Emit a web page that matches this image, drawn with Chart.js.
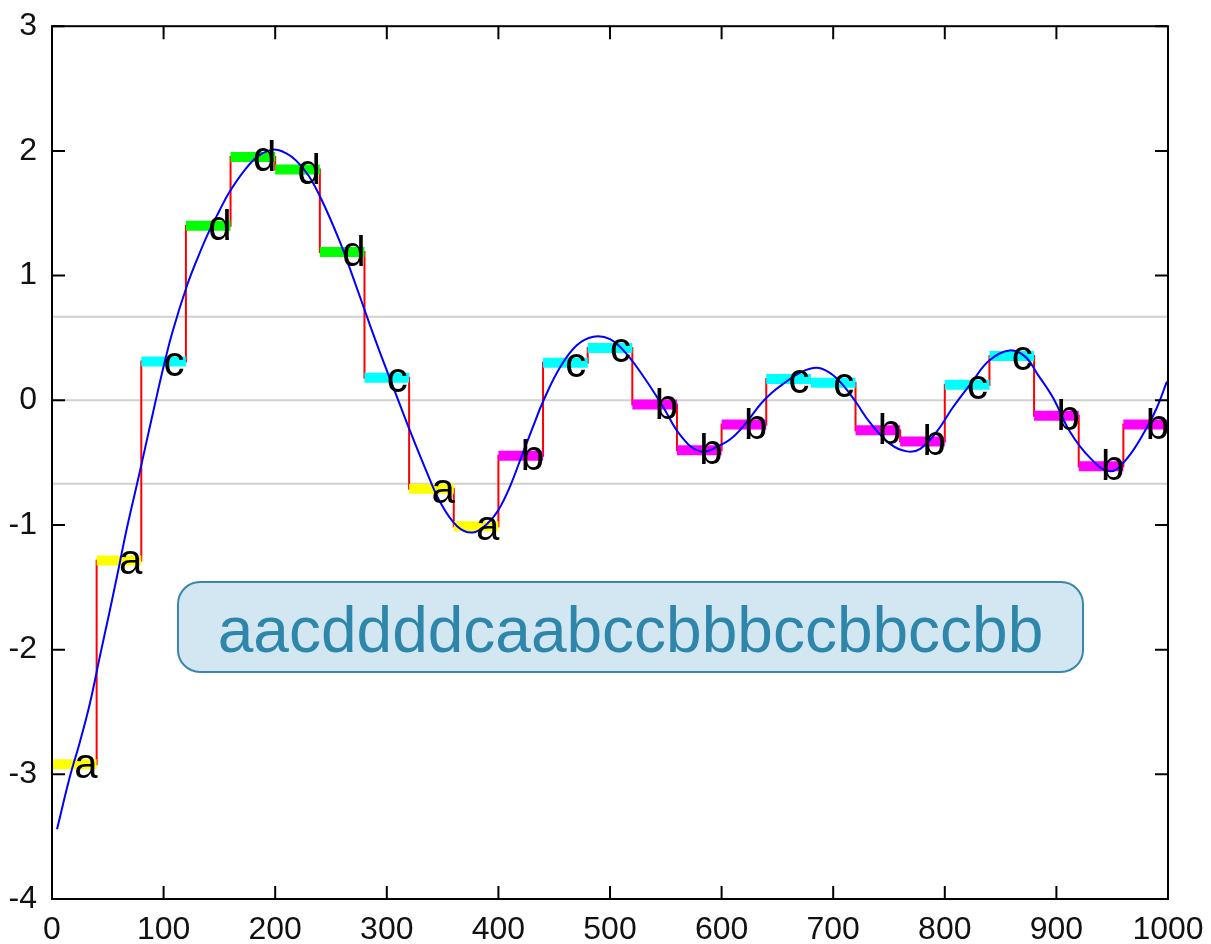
<!DOCTYPE html>
<html>
<head>
<meta charset="utf-8">
<script src="https://cdn.jsdelivr.net/npm/chart.js@4.4.0/dist/chart.umd.min.js"></script>
<style>
  body { margin: 0; background: #fff; }
  #wrap { width: 1211px; height: 944px; }
</style>
</head>
<body>
<div id="wrap"><canvas id="saxChart" width="1211" height="944"></canvas></div>
<script>
// SAX segments (PAA level per 40-sample frame)
const segEdges = [0, 40, 80, 120, 160, 200, 240, 280, 320, 360, 400, 440, 480, 520,
  560, 600, 640, 680, 720, 760, 800, 840, 880, 920, 960, 1000];
const paaValues = [-2.92, -1.285, 0.31, 1.40, 1.95, 1.85, 1.19, 0.18, -0.71, -1.01,
  -0.445, 0.30, 0.42, -0.035, -0.40, -0.195, 0.17, 0.14, -0.24, -0.33,
  0.125, 0.355, -0.125, -0.53, -0.195];
const symbols = ["a", "a", "c", "d", "d", "d", "d", "c", "a", "a", "b", "c", "c",
  "b", "b", "b", "c", "c", "b", "b", "c", "c", "b", "b", "b"];
const symbolColors = { a: "#ffff00", b: "#ff00ff", c: "#00ffff", d: "#00ff00" };
const breakpoints = [-0.67, 0, 0.67];

// raw series (blue)
const curveX = [4.5, 16, 25, 34, 43, 51, 59, 67, 77, 85, 92, 100, 108, 121, 130, 140,
  150, 159, 173, 185, 198, 210, 219, 230, 242, 258, 270, 285, 294, 306, 321, 336,
  348, 363, 377, 390, 400, 410, 422, 432, 440, 455, 470, 485, 500, 515, 533, 548,
  563, 581, 601, 612, 623, 635, 645, 655, 670, 685, 697, 708, 720, 733, 751, 766,
  778, 793, 807, 823, 840, 858, 872, 883, 897, 912, 930, 948, 963, 981, 990, 999];
const curveY = [-3.44, -3.02, -2.74, -2.43, -2.05, -1.72, -1.38, -1.03, -0.64, -0.32,
  -0.04, 0.27, 0.55, 0.92, 1.13, 1.34, 1.52, 1.67, 1.85, 1.96, 2.01, 1.98, 1.92,
  1.80, 1.60, 1.27, 0.98, 0.60, 0.38, 0.10, -0.25, -0.58, -0.82, -1.01, -1.06,
  -0.99, -0.88, -0.70, -0.42, -0.19, -0.01, 0.26, 0.44, 0.51, 0.49, 0.37, 0.15,
  -0.06, -0.28, -0.41, -0.35, -0.28, -0.17, -0.03, 0.06, 0.13, 0.22, 0.26, 0.22,
  0.13, -0.01, -0.18, -0.35, -0.41, -0.39, -0.25, -0.06, 0.13, 0.32, 0.40, 0.35,
  0.21, 0.02, -0.25, -0.46, -0.57, -0.47, -0.22, -0.06, 0.15];

const saxWord = "aacddddcaabccbbbccbbccbb";

const datasets = [];

// raw curve on top
datasets.push({
  data: curveX.map((x, i) => ({ x, y: curveY[i] })),
  borderColor: "#0000ff",
  borderWidth: 2,
  pointRadius: 0,
  tension: 0.4,
  order: 1
});

// coloured symbol bars
paaValues.forEach((v, i) => {
  datasets.push({
    data: [{ x: segEdges[i], y: v }, { x: segEdges[i + 1], y: v }],
    borderColor: symbolColors[symbols[i]],
    borderWidth: 10,
    borderCapStyle: "butt",
    pointRadius: 0,
    order: 2
  });
});

// red step line
datasets.push({
  data: segEdges.map((x, i) => ({ x, y: paaValues[Math.min(i, paaValues.length - 1)] })),
  borderColor: "#ff0000",
  borderWidth: 2,
  pointRadius: 0,
  stepped: "before",
  order: 3
});

// breakpoint lines
breakpoints.forEach(b => {
  datasets.push({
    data: [{ x: 0, y: b }, { x: 1000, y: b }],
    borderColor: "#d0d0d0",
    borderWidth: 2,
    pointRadius: 0,
    order: 4
  });
});

// letters over each segment
const letterPlugin = {
  id: "letters",
  afterDatasetsDraw(chart) {
    const { ctx, scales: { x, y } } = chart;
    ctx.save();
    ctx.font = '42px "Liberation Sans", Arial, sans-serif';
    ctx.fillStyle = "#000";
    ctx.textAlign = "left";
    ctx.textBaseline = "alphabetic";
    symbols.forEach((s, i) => {
      const px = x.getPixelForValue(segEdges[i] + 20);
      const py = y.getPixelForValue(paaValues[i]) + 14;
      ctx.fillText(s, px, py);
    });
    ctx.restore();
  }
};

// box frame with inward ticks + SAX word box
const framePlugin = {
  id: "frame",
  afterDraw(chart) {
    const { ctx, chartArea: a, scales: { x, y } } = chart;
    ctx.save();
    ctx.strokeStyle = "#000";
    ctx.lineWidth = 2;
    ctx.strokeRect(a.left, a.top, a.right - a.left, a.bottom - a.top);
    ctx.beginPath();
    x.ticks.forEach(t => {
      const px = x.getPixelForValue(t.value);
      ctx.moveTo(px, a.bottom); ctx.lineTo(px, a.bottom - 13);
      ctx.moveTo(px, a.top); ctx.lineTo(px, a.top + 13);
    });
    y.ticks.forEach(t => {
      const py = y.getPixelForValue(t.value);
      ctx.moveTo(a.left, py); ctx.lineTo(a.left + 13, py);
      ctx.moveTo(a.right, py); ctx.lineTo(a.right - 13, py);
    });
    ctx.stroke();

    const bx = 178, by = 582, bw = 905, bh = 90;
    ctx.beginPath();
    ctx.roundRect(bx, by, bw, bh, 22);
    ctx.fillStyle = "#d3e7f2";
    ctx.fill();
    ctx.lineWidth = 2;
    ctx.strokeStyle = "#3a87ac";
    ctx.stroke();
    ctx.font = '64px "Liberation Sans", Arial, sans-serif';
    ctx.fillStyle = "#2f86ab";
    ctx.textAlign = "center";
    ctx.textBaseline = "alphabetic";
    ctx.fillText(saxWord, bx + bw / 2, 652);
    ctx.restore();
  }
};

const ctx = document.getElementById("saxChart");
const tickFont = { family: '"Liberation Sans", Arial, sans-serif', size: 32 };

new Chart(ctx, {
  type: "line",
  data: { datasets },
  options: {
    responsive: false,
    animation: false,
    devicePixelRatio: 1,
    layout: { padding: { left: 0, top: 21, right: 43, bottom: 0 } },
    plugins: {
      legend: { display: false },
      tooltip: { enabled: false }
    },
    scales: {
      x: {
        type: "linear",
        min: 0,
        max: 1000,
        grid: { display: false },
        border: { display: false },
        ticks: {
          stepSize: 100,
          padding: 4,
          color: "#111",
          font: tickFont,
          maxRotation: 0,
          callback: v => String(v)
        },
        afterFit(scale) { scale.height = 45; }
      },
      y: {
        min: -4,
        max: 3,
        grid: { display: false },
        border: { display: false },
        ticks: {
          stepSize: 1,
          padding: 7,
          color: "#111",
          font: tickFont,
          callback: v => String(v)
        },
        afterFit(scale) { scale.width = 52; }
      }
    }
  },
  plugins: [letterPlugin, framePlugin]
});
</script>
</body>
</html>
